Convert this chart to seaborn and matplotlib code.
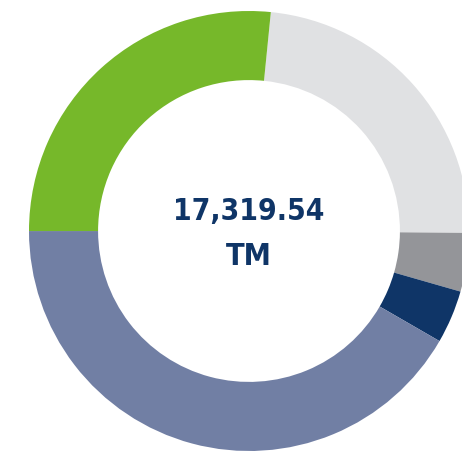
import matplotlib
matplotlib.use("Agg")
import matplotlib.pyplot as plt
import seaborn as sns

# shares of total (clockwise from the top)
labels = ["light gray", "dark gray", "navy", "slate", "green"]
values = [4080, 745, 675, 7215, 4605]
colors = ["#e0e1e3", "#949599", "#0f3567", "#717fa4", "#76b82a"]
total_text = "17,319.54"
unit_text = "TM"

sns.set_style("white")
plt.rcParams["font.family"] = ["DejaVu Sans"]

fig = plt.figure(figsize=(4.62, 4.53), dpi=100)
ax = fig.add_axes([0, 0, 1, 1])
ax.pie(values, colors=colors, startangle=84.3, counterclock=False,
       radius=1.0, wedgeprops=dict(width=0.314, linewidth=0))
ax.set_aspect("auto")
ax.set_xlim(-249 / 220, (462 - 249) / 220)
ax.set_ylim(-(453 - 231) / 220, 231 / 220)
ax.axis("off")

ax.text(0, 0.09, total_text, ha="center", va="center", fontsize=21.5,
        fontweight="bold", fontstretch="condensed", color="#0f3567")
ax.text(0, -0.115, unit_text, ha="center", va="center", fontsize=22,
        fontweight="bold", fontstretch="condensed", color="#0f3567")

fig.savefig("out.png", dpi=100)
